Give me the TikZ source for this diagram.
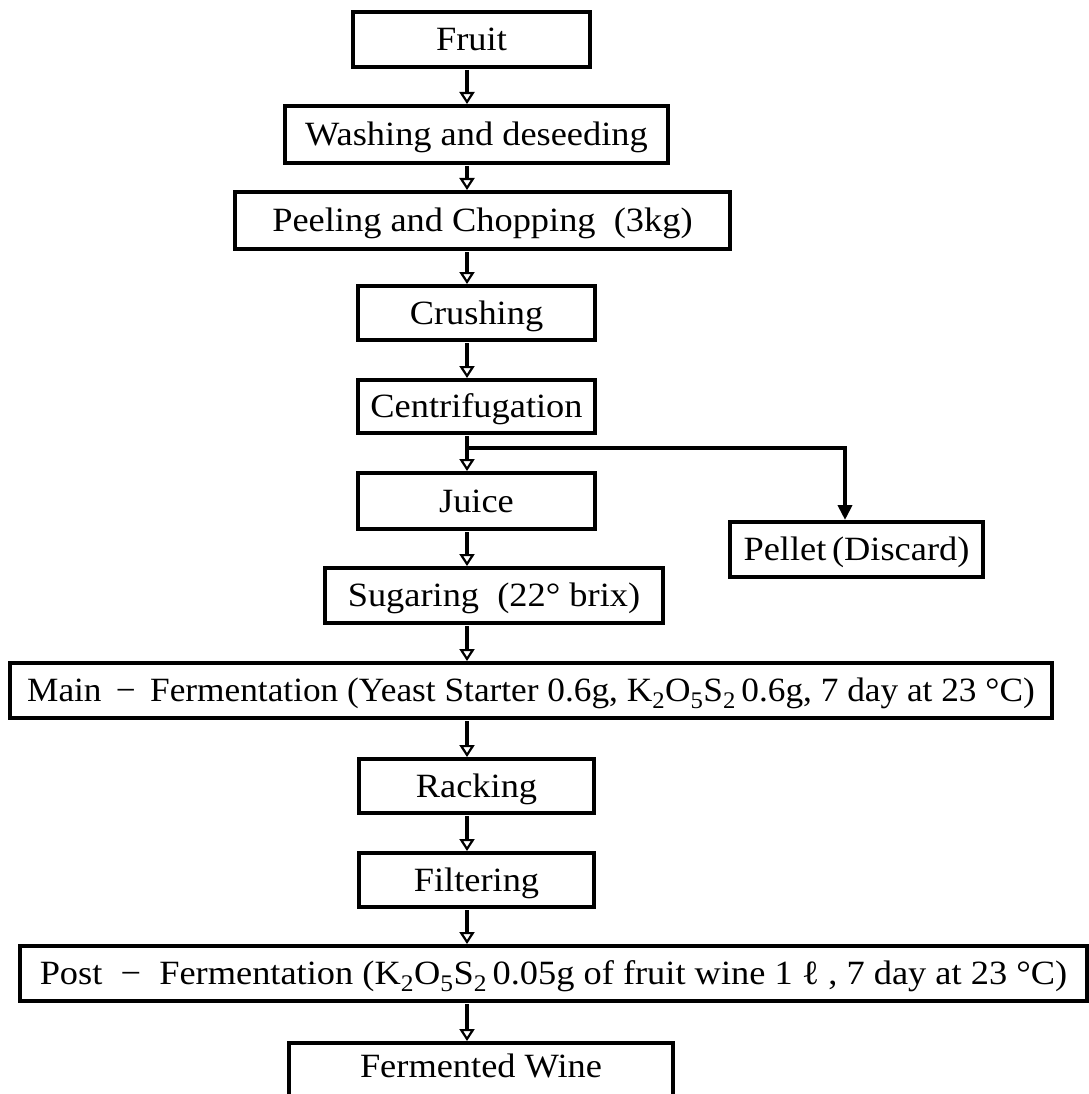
\documentclass[tikz,border=0pt]{standalone}
\usepackage{fontspec}
\usepackage{graphicx}
\setmainfont[FakeStretch=1.07]{Liberation Serif}
\usetikzlibrary{arrows.meta}
\newcommand{\degc}{°C}
\newcommand{\kos}{K\textsubscript{2}O\textsubscript{5}S\textsubscript{2}}
\begin{document}
\begin{tikzpicture}[x=1pt,y=1pt,
  box/.style={draw, line width=4pt, rectangle, inner sep=0pt, text height=22pt, text depth=0pt,
    font=\fontsize{34}{40}\selectfont},
  arr/.style={line width=4pt, -{Triangle[open, length=12pt, width=15pt, line width=2.2pt]}, shorten <=1pt},
  farr/.style={line width=4pt, -{Triangle[length=15pt, width=14pt]}}]
\useasboundingbox (0,0) rectangle (1088,-1094);
\fill[white] (0,0) rectangle (1088,-1094);
\coordinate (axis) at (467,0);
\node[box, minimum width=237pt, minimum height=55pt] (fruit) at (471.5,-39.5) {Fruit};
\node[box, minimum width=383pt, minimum height=57pt] (wash) at (476.5,-134.5) {Washing and deseeding};
\node[box, minimum width=495pt, minimum height=57pt] (peel) at (482.5,-220.5) {Peeling and Chopping\ \ (3kg)};
\node[box, minimum width=237pt, minimum height=54pt] (crush) at (476.5,-313) {Crushing};
\node[box, minimum width=237pt, minimum height=53pt] (centr) at (476.5,-406.5) {Centrifugation};
\node[box, minimum width=237pt, minimum height=56pt] (juice) at (476.5,-501) {Juice};
\node[box, minimum width=253pt, minimum height=55pt] (pellet) at (856.5,-549.5) {Pellet\,(Discard)};
\node[box, minimum width=338pt, minimum height=55pt] (sugar) at (494,-595.5) {Sugaring\ \ (22° brix)};
\node[box, minimum width=1042pt, minimum height=55pt] (main) at (531,-690.5) {\scalebox{0.97}[1]{Main \,−\, Fermentation (Yeast Starter 0.6g, \kos\,0.6g, 7 day at 23 \degc)}};
\node[box, minimum width=235pt, minimum height=54pt] (rack) at (476.5,-786) {Racking};
\node[box, minimum width=235pt, minimum height=54pt] (filt) at (476.5,-880) {Filtering};
\node[box, minimum width=1067pt, minimum height=55pt] (post) at (553.5,-973.5) {Post \ −\ \ Fermentation (\kos\,0.05g of fruit wine 1 ℓ\ , 7 day at 23 \degc)};
\node[box, minimum width=384pt, anchor=north, inner ysep=12pt, text depth=22pt] (ferm) at (481,-1041) {Fermented Wine};
\coordinate (br) at (467,-448);
\draw[arr] (fruit.south -| axis) -- (wash.north -| axis);
\draw[arr] (wash.south -| axis) -- (peel.north -| axis);
\draw[arr] (peel.south -| axis) -- (crush.north -| axis);
\draw[arr] (crush.south -| axis) -- (centr.north -| axis);
\draw[arr] (centr.south -| axis) -- (juice.north -| axis);
\draw[farr] (br) -| ([xshift=-11.5pt]pellet.north);
\draw[arr] (juice.south -| axis) -- (sugar.north -| axis);
\draw[arr] (sugar.south -| axis) -- (main.north -| axis);
\draw[arr] (main.south -| axis) -- (rack.north -| axis);
\draw[arr] (rack.south -| axis) -- (filt.north -| axis);
\draw[arr] (filt.south -| axis) -- (post.north -| axis);
\draw[arr] (post.south -| axis) -- (ferm.north -| axis);
\end{tikzpicture}
\end{document}
